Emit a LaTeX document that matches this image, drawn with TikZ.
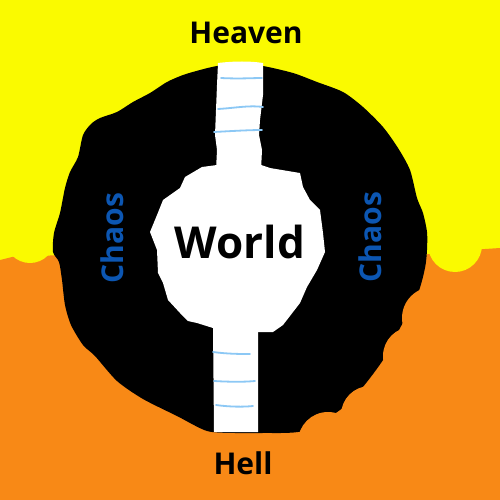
\documentclass[tikz,border=0pt]{standalone}
\usepackage{fontspec}
\setmainfont{Open Sans}
\definecolor{heaven}{RGB}{250,250,0}
\definecolor{hell}{RGB}{248,137,22}
\definecolor{chaosblue}{RGB}{12,86,178}
\definecolor{rung}{RGB}{140,200,245}
\tikzset{
  label/.style={font=\bfseries\fontsize{30}{30}\selectfont, text=black, inner sep=0pt},
  chaoslabel/.style={font=\bfseries\fontsize{30}{30}\selectfont, text=chaosblue, rotate=90, inner sep=0pt},
  rungline/.style={draw=rung, line width=1.8pt, line cap=round}
}
\begin{document}
\begin{tikzpicture}[x=1pt,y=-1pt]
\useasboundingbox (0,0) rectangle (500,500);
% backgrounds
\fill[heaven] (0,0) rectangle (500,500);
\fill[hell] (0,260) -- (12,257) -- (40,256) -- (60,255) -- (420,255) -- (470,250) -- (500,248) -- (500,500) -- (0,500) -- cycle;
\fill[heaven] (30,238) circle (25);
\fill[heaven] (455,245) circle (27);
% chaos ring
\fill[black] plot[smooth cycle, tension=0.45] coordinates {
 (217,66) (200,70) (183,75) (167,82) (150,93) (133,102) (117,112) (100,118) (91,124)
 (83,135) (78,157) (70,172) (65,188) (60,213) (54,233) (53,252) (59,262) (62,280)
 (65,305) (71,325) (83,345) (95,356) (117,381) (143,399) (177,416) (207,431)
 (235,433) (262,433) (303,431) (340,410) (362,388) (383,360) (399,330) (418,293)
 (425,268) (427,250)
 (427,232) (423,213) (417,198) (410,170) (398,148) (383,127) (363,107) (343,92)
 (317,82) (293,73) (263,66) (240,64)};
% scallops of hell
\fill[hell] (328,442) circle (30);
\fill[hell] (370,415) circle (29);
\fill[hell] (412,356) circle (29);
\fill[hell] (433,318) circle (31);
% world blob
\fill[white] (217,165) -- (202,167) -- (185,177) -- (180,188) -- (163,200) -- (157,215)
 -- (150,232) -- (157,250) -- (158,273) -- (163,283) -- (168,300) -- (180,313)
 -- (188,321) -- (197,323) -- (213,328) -- (258,332) -- (273,332) -- (283,325)
 -- (300,303) -- (307,287) -- (317,270) -- (325,252) -- (323,233) -- (320,210)
 -- (310,200) -- (303,187) -- (300,173) -- (270,168) -- (261,165) -- cycle;
% upper ladder
\fill[white] (218,63) .. controls (235,61) and (250,61) .. (263,63) -- (263,95) -- (260,120)
 -- (259,135) -- (262,150) -- (261,170) -- (216,170) -- (217,150) -- (215,135)
 -- (216,110) -- (217,85) -- cycle;
% lower ladder
\fill[white] (213,325) -- (258,325) -- (258,432) -- (214,432) -- cycle;
% rungs
\draw[rungline] (221,78) .. controls (240,79) and (252,78) .. (262,78);
\draw[rungline] (218,109) .. controls (235,108) and (250,105) .. (263,107);
\draw[rungline] (214,132) .. controls (232,131) and (250,130) .. (262,130);
\draw[rungline] (213,352) .. controls (228,354) and (240,354) .. (250,354);
\draw[rungline] (214,381) .. controls (230,382) and (245,382) .. (255,381);
\draw[rungline] (216,405) .. controls (230,407) and (244,407) .. (253,406);
% labels
\node[label] (heaven) at (246,33) {Heaven};
\node[label] (hell) at (243,463) {Hell};
\node[label, font=\bfseries\fontsize{44}{44}\selectfont] (world) at (240,242) {World};
\node[chaoslabel] (chaosL) at (112,238) {Chaos};
\node[chaoslabel] (chaosR) at (370,237) {Chaos};
\end{tikzpicture}
\end{document}
